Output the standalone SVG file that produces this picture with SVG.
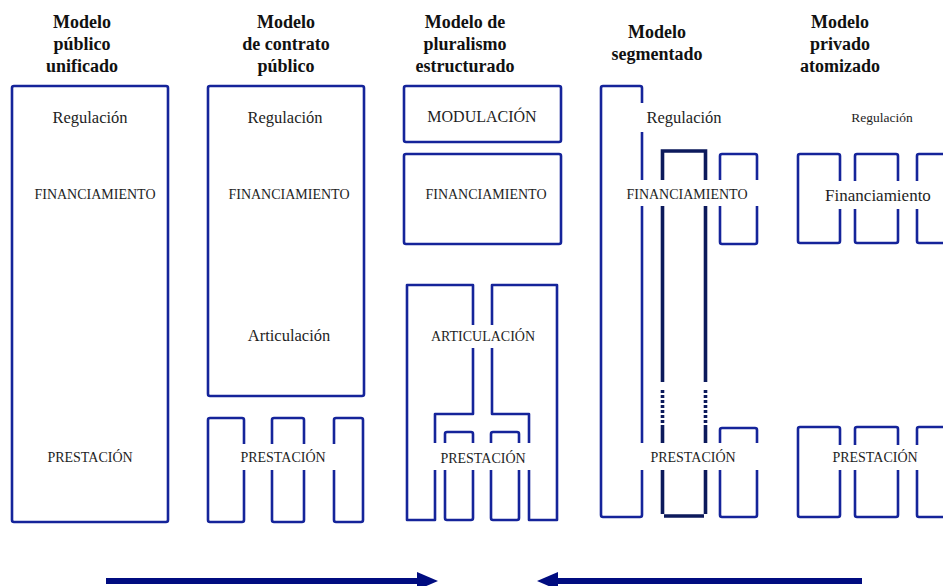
<svg xmlns="http://www.w3.org/2000/svg" width="943" height="586" viewBox="0 0 943 586">
<style>
.b{fill:none;stroke:#15249a;stroke-width:2.6;stroke-linejoin:round}
.d{fill:none;stroke:#0c1a5c;stroke-width:3.6}
.t{font-family:"Liberation Serif","Times New Roman",serif;fill:#1e1e1e;text-anchor:middle}
.h{font-family:"Liberation Serif","Times New Roman",serif;font-weight:bold;font-size:18px;fill:#111;text-anchor:middle}
.c{font-size:14px}
.r{font-size:16.5px}
.g{fill:#fff;stroke:none}
.a{stroke:#000c80;stroke-width:6;fill:none}
</style>
<defs>
<marker id="ah" markerUnits="userSpaceOnUse" markerWidth="24" markerHeight="20" refX="0" refY="9" orient="auto">
<path d="M0,0 L21,9 L0,18 Z" fill="#000c80"/>
</marker>
</defs>

<g id="titles">
<text class="h" x="82" y="28">Modelo</text>
<text class="h" x="82" y="50">público</text>
<text class="h" x="82" y="72">unificado</text>
<text class="h" x="286" y="28">Modelo</text>
<text class="h" x="286" y="50">de contrato</text>
<text class="h" x="286" y="72">público</text>
<text class="h" x="465" y="28">Modelo de</text>
<text class="h" x="465" y="50">pluralismo</text>
<text class="h" x="465" y="72">estructurado</text>
<text class="h" x="657" y="38">Modelo</text>
<text class="h" x="657" y="60">segmentado</text>
<text class="h" x="840" y="28">Modelo</text>
<text class="h" x="840" y="50">privado</text>
<text class="h" x="840" y="72">atomizado</text>
</g>

<g id="publico-unificado">
<rect class="b" x="12" y="86" width="156" height="436" rx="2"/>
<text class="t r" x="90" y="123">Regulación</text>
<text class="t c" x="95" y="199">FINANCIAMIENTO</text>
<text class="t c" x="90" y="462">PRESTACIÓN</text>
</g>

<g id="contrato-publico">
<rect class="b" x="208" y="86" width="156" height="310" rx="2"/>
<text class="t r" x="285" y="123">Regulación</text>
<text class="t c" x="289" y="199">FINANCIAMIENTO</text>
<text class="t r" x="289" y="341">Articulación</text>
<rect class="b" x="208" y="418" width="36" height="104" rx="2"/>
<rect class="b" x="272" y="418" width="32" height="104" rx="2"/>
<rect class="b" x="334" y="418" width="29" height="104" rx="2"/>
<rect class="g" x="237" y="444" width="101" height="26"/>
<text class="t c" x="283" y="462">PRESTACIÓN</text>
</g>

<g id="pluralismo-estructurado">
<rect class="b" x="404" y="86" width="157" height="56" rx="2"/>
<text class="t" font-size="16" x="482" y="122">MODULACIÓN</text>
<rect class="b" x="404" y="154" width="157" height="90" rx="2"/>
<text class="t c" x="486" y="199">FINANCIAMIENTO</text>
<path class="b" d="M407,285 H473 V414 H435 V520 H407 Z"/>
<path class="b" d="M492,285 H557 V520 H529 V414 H492 Z"/>
<rect class="b" x="445" y="432" width="28" height="88" rx="2"/>
<rect class="b" x="491" y="432" width="28" height="88" rx="2"/>
<rect class="g" x="430" y="325" width="107" height="23"/>
<text class="t" font-size="14" x="483" y="341">ARTICULACIÓN</text>
<rect class="g" x="430" y="443" width="105" height="27"/>
<text class="t c" x="483" y="463">PRESTACIÓN</text>
</g>

<g id="segmentado">
<rect class="b" x="601" y="86" width="41" height="431" rx="2"/>
<path class="d" d="M662.5,382 V151 H705.5 V382"/>
<path class="d" d="M662.5,390 V425 M705.5,390 V425" stroke-dasharray="3,2"/>
<path class="d" d="M662.5,425 V514 M705.5,425 V514 M664,516 H704"/>
<rect class="b" x="720" y="154" width="37" height="90" rx="2"/>
<rect class="b" x="720" y="428" width="37" height="89" rx="2"/>
<rect class="g" x="638" y="103" width="88" height="29"/>
<text class="t r" x="684" y="123">Regulación</text>
<rect class="g" x="622" y="180" width="138" height="26"/>
<text class="t c" x="687" y="199">FINANCIAMIENTO</text>
<rect class="g" x="638" y="443" width="122" height="27"/>
<text class="t c" x="693" y="462">PRESTACIÓN</text>
</g>

<g id="privado-atomizado">
<text class="t" font-size="13.5" x="882" y="122">Regulación</text>
<rect class="b" x="798" y="154" width="42" height="89" rx="2"/>
<rect class="b" x="855" y="154" width="43" height="89" rx="2"/>
<rect class="b" x="917" y="154" width="40" height="89" rx="2"/>
<rect class="b" x="798" y="427" width="42" height="90" rx="2"/>
<rect class="b" x="855" y="427" width="43" height="90" rx="2"/>
<rect class="b" x="917" y="427" width="40" height="90" rx="2"/>
<rect class="g" x="822" y="181" width="113" height="28"/>
<text class="t" font-size="17" x="878" y="201">Financiamiento</text>
<rect class="g" x="828" y="445" width="94" height="25"/>
<text class="t c" x="875" y="462">PRESTACIÓN</text>
</g>

<g id="connectors">
<line class="a" x1="106" y1="581" x2="417" y2="581" marker-end="url(#ah)"/>
<line class="a" x1="862" y1="581" x2="558" y2="581" marker-end="url(#ah)"/>
</g>
</svg>
